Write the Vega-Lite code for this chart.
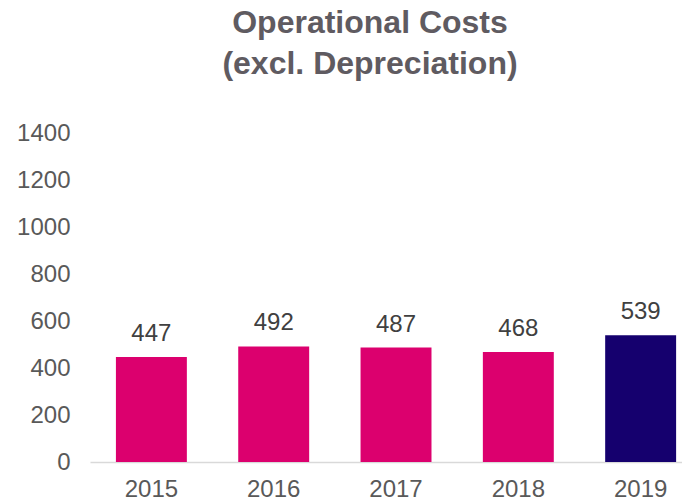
{
  "$schema": "https://vega.github.io/schema/vega-lite/v6.json",
  "width": 592,
  "height": 329,
  "autosize": {"type": "none"},
  "padding": {"left": 90, "top": 133, "right": 0, "bottom": 40},
  "background": "white",
  "title": {
    "text": ["Operational Costs", "(excl. Depreciation)"],
    "font": "Liberation Sans",
    "fontSize": 32,
    "fontWeight": "bold",
    "color": "#5f5b61",
    "lineHeight": 41,
    "anchor": "middle",
    "frame": "group",
    "dx": -16,
    "offset": 40
  },
  "data": {
    "values": [
      {"year": "2015", "value": 447, "highlight": "past"},
      {"year": "2016", "value": 492, "highlight": "past"},
      {"year": "2017", "value": 487, "highlight": "past"},
      {"year": "2018", "value": 468, "highlight": "past"},
      {"year": "2019", "value": 539, "highlight": "current"}
    ]
  },
  "config": {
    "view": {"stroke": null},
    "font": "Liberation Sans"
  },
  "encoding": {
    "x": {
      "field": "year",
      "type": "nominal",
      "sort": null,
      "scale": {"paddingInner": 0.42, "paddingOuter": 0.13, "align": 0.815},
      "axis": {
        "title": null,
        "labelAngle": 0,
        "labelFontSize": 24,
        "labelColor": "#595959",
        "labelPadding": 15,
        "ticks": false,
        "domainColor": "#d9d9d9",
        "domainWidth": 1.5,
        "grid": false
      }
    },
    "y": {
      "field": "value",
      "type": "quantitative",
      "scale": {"domain": [0, 1400]},
      "axis": {
        "title": null,
        "values": [0, 200, 400, 600, 800, 1000, 1200, 1400],
        "format": "d",
        "labelFontSize": 24,
        "labelColor": "#595959",
        "labelPadding": 20,
        "ticks": false,
        "domain": false,
        "grid": false
      }
    }
  },
  "layer": [
    {
      "mark": {"type": "bar"},
      "encoding": {
        "color": {
          "field": "highlight",
          "type": "nominal",
          "scale": {"domain": ["past", "current"], "range": ["#dc006e", "#15006e"]},
          "legend": null
        }
      }
    },
    {
      "mark": {"type": "text", "baseline": "alphabetic", "dy": -16, "fontSize": 24, "color": "#404040"},
      "encoding": {
        "text": {"field": "value", "type": "quantitative"}
      }
    }
  ]
}
